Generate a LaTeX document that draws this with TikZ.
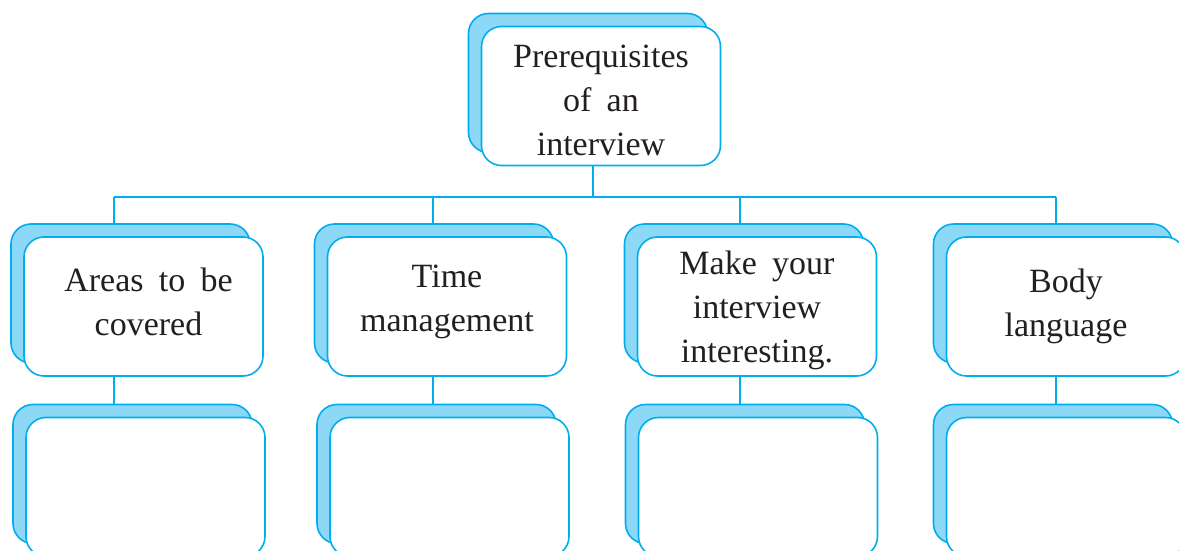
\documentclass[tikz,border=0pt]{standalone}
\usepackage{fontspec}
\setmainfont[WordSpace=1.8]{Liberation Serif}
\definecolor{edge}{RGB}{0,174,239}
\definecolor{shade}{RGB}{140,216,246}
\definecolor{ink}{RGB}{35,31,32}
\begin{document}
\begin{tikzpicture}[x=1pt,y=-1pt,
  boxbase/.style={draw=edge, line width=1.6pt, rectangle, rounded corners=20pt, minimum width=239pt, minimum height=139pt, inner sep=0pt},
  backbox/.style={boxbase, fill=shade},
  frontbox/.style={boxbase, fill=white, align=center, text=ink, font=\fontsize{34}{44}\selectfont},
  link/.style={draw=edge, line width=1.4pt}]
\useasboundingbox (0,0) rectangle (1179,551);
\clip (0,0) rectangle (1179,551);
% top
\node[backbox] (tb) at (588,83) {};
\node[frontbox] (tf) at (601,96) {\rule{0pt}{31pt}Prerequisites\\of an\\interview};
% row 2
\node[backbox] (b1) at (130.5,293.5) {};
\node[frontbox] (f1) at (143.5,306.5) {\hspace*{10pt}Areas to be\\\hspace*{10pt}covered\rule[-9pt]{0pt}{1pt}};
\node[backbox] (b2) at (434,293.5) {};
\node[frontbox] (f2) at (447,306.5) {Time\\management\rule[-16pt]{0pt}{1pt}};
\node[backbox] (b3) at (744,293.5) {};
\node[frontbox] (f3) at (757,306.5) {\rule{0pt}{31pt}Make your\\interview\\interesting.};
\node[backbox] (b4) at (1053,293.5) {};
\node[frontbox] (f4) at (1066,306.5) {Body\\language};
% row 3
\node[backbox] (lb1) at (132.5,474) {};
\node[frontbox] (lf1) at (145.5,487) {};
\node[backbox] (lb2) at (436.5,474) {};
\node[frontbox] (lf2) at (449.5,487) {};
\node[backbox] (lb3) at (745,474) {};
\node[frontbox] (lf3) at (758,487) {};
\node[backbox] (lb4) at (1053,474) {};
\node[frontbox] (lf4) at (1066,487) {};
% connectors
\coordinate (hub) at (593,197);
\coordinate (bus1) at (114,197);
\coordinate (bus2) at (433,197);
\coordinate (bus3) at (740,197);
\coordinate (bus4) at (1056,197);
\draw[link] (hub |- tf.south) -- (hub);
\draw[link] (bus1) -- (bus4);
\draw[link] (bus1) -- (bus1 |- b1.north);
\draw[link] (bus2) -- (bus2 |- b2.north);
\draw[link] (bus3) -- (bus3 |- b3.north);
\draw[link] (bus4) -- (bus4 |- b4.north);
\draw[link] (bus1 |- f1.south) -- (bus1 |- lb1.north);
\draw[link] (bus2 |- f2.south) -- (bus2 |- lb2.north);
\draw[link] (bus3 |- f3.south) -- (bus3 |- lb3.north);
\draw[link] (bus4 |- f4.south) -- (bus4 |- lb4.north);
\end{tikzpicture}
\end{document}
